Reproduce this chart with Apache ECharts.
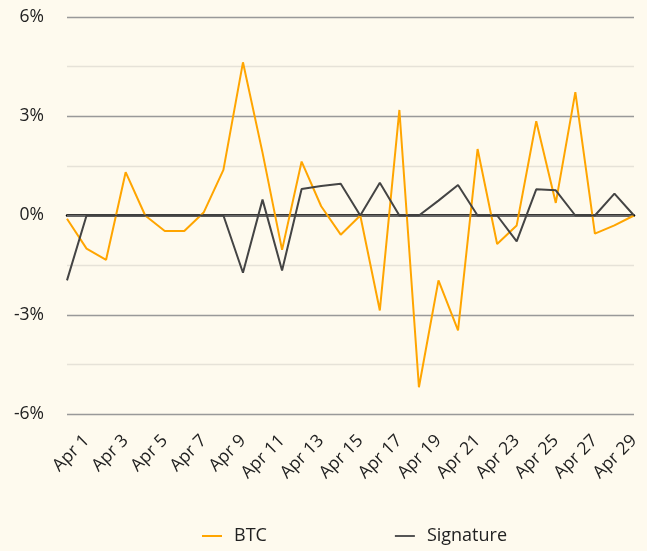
<!DOCTYPE html>
<html>
<head>
<meta charset="utf-8">
<script src="https://cdn.jsdelivr.net/npm/echarts@6/dist/echarts.min.js"></script>
<style>
html,body{margin:0;padding:0;background:#fefaee;}
#chart{width:647px;height:551px;}
</style>
</head>
<body>
<div id="chart"></div>
<script>
var categories = ["Mar 31","Apr 1","Apr 2","Apr 3","Apr 4","Apr 5","Apr 6","Apr 7","Apr 8","Apr 9","Apr 10",
  "Apr 11","Apr 12","Apr 13","Apr 14","Apr 15","Apr 16","Apr 17","Apr 18","Apr 19","Apr 20",
  "Apr 21","Apr 22","Apr 23","Apr 24","Apr 25","Apr 26","Apr 27","Apr 28","Apr 29"];
var btc = [-0.1,-1.0,-1.34,1.31,0,-0.47,-0.47,0.1,1.38,4.63,1.9,
  -1.04,1.63,0.28,-0.58,0,-2.87,3.19,-5.19,-1.96,-3.47,
  2.01,-0.86,-0.3,2.85,0.38,3.73,-0.55,-0.3,0];
var signature = [-1.96,0,0,0,0,0,0,0,0,-1.73,0.48,
  -1.66,0.8,0.89,0.96,0,0.99,0,0,0.45,0.92,
  0,0,-0.78,0.79,0.76,0,0,0.66,0];
var yTicks = [-6,-3,0,3,6];

var font = "'Open Sans', sans-serif";
var chart = echarts.init(document.getElementById('chart'));
chart.setOption({
  backgroundColor: '#fefaee',
  animation: false,
  grid: {left: 67, right: 13, top: 17, bottom: 137},
  legend: {
    bottom: 1, left: 197,
    itemGap: 128, itemWidth: 20, itemHeight: 2,
    icon: 'rect',
    textStyle: {fontFamily: font, fontSize: 18, color: '#222', padding: [0,0,0,7]},
    data: ['BTC','Signature']
  },
  xAxis: {
    type: 'category', data: categories, boundaryGap: false,
    axisLine: {lineStyle: {color: '#000', width: 2.5}},
    axisTick: {show: false},
    splitLine: {show: false},
    axisLabel: {
      rotate: 45, fontFamily: font, fontSize: 17.5, color: '#222', margin: 24,
      interval: function (idx) { return idx % 2 === 1; }
    }
  },
  yAxis: {
    type: 'value', min: -6, max: 6, interval: 1.5,
    axisLine: {show: false}, axisTick: {show: false},
    axisLabel: {
      fontFamily: font, fontSize: 17.5, color: '#222', margin: 23,
      formatter: function (v) { return yTicks.indexOf(v) >= 0 ? v + '%' : ''; }
    },
    splitLine: {lineStyle: {width: 1.3, color: ['#999','#e6e2d8','#999','#e6e2d8','#777','#e6e2d8','#999','#e6e2d8','#999']}}
  },
  series: [
    {
      name: 'BTC', type: 'line', data: btc, symbol: 'none', z: 3,
      lineStyle: {color: '#ffa500', width: 2}, itemStyle: {color: '#ffa500'}
    },
    {
      name: 'Signature', type: 'line', data: signature, symbol: 'none', z: 4,
      lineStyle: {color: '#444', width: 2}, itemStyle: {color: '#555'},
      markLine: {
        silent: true, symbol: 'none', label: {show: false}, z: 1,
        lineStyle: {color: '#666', width: 2, type: 'solid'},
        data: [{yAxis: 0}]
      }
    }
  ]
});
</script>
</body>
</html>
